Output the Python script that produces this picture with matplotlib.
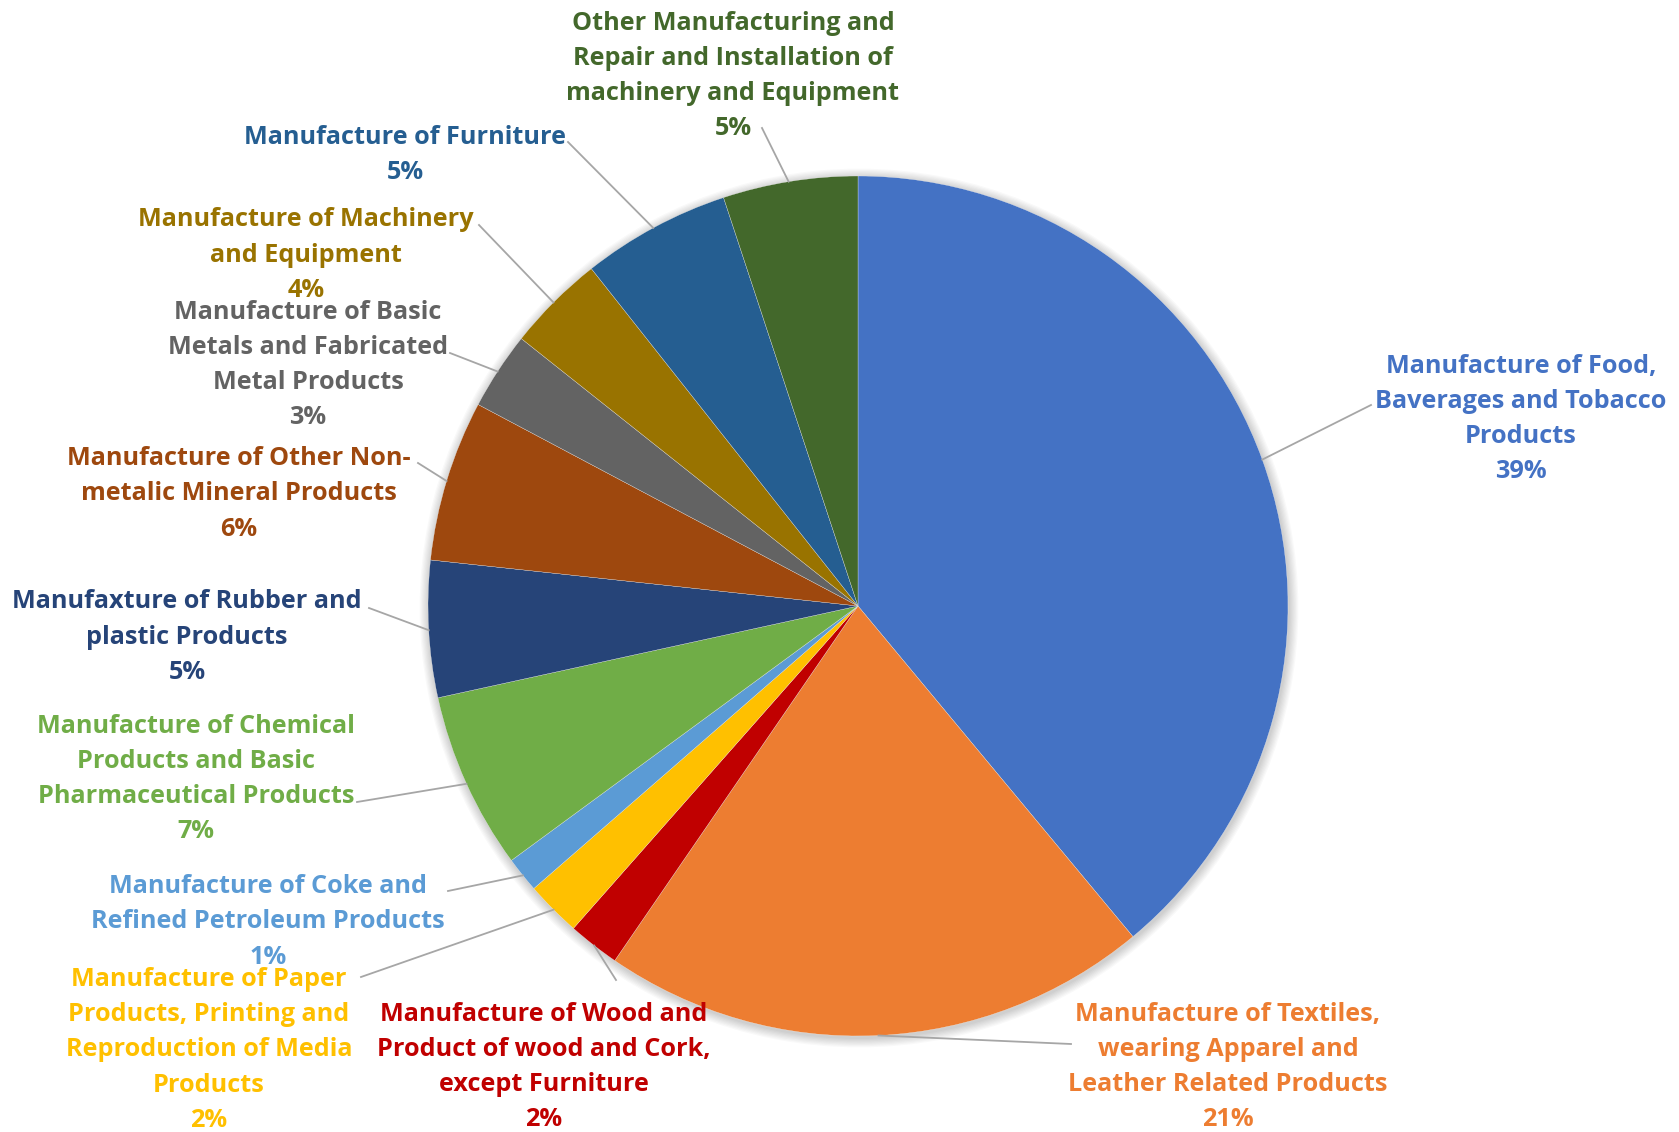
import numpy as np
import matplotlib
matplotlib.use('Agg')
import matplotlib.pyplot as plt
from matplotlib.patches import Circle

# slice values (percent), clockwise from 12 o'clock
categories = [
    "Manufacture of Food,\nBaverages and Tobacco\nProducts",
    "Manufacture of Textiles,\nwearing Apparel and\nLeather Related Products",
    "Manufacture of Wood and\nProduct of wood and Cork,\nexcept Furniture",
    "Manufacture of Paper\nProducts, Printing and\nReproduction of Media\nProducts",
    "Manufacture of Coke and\nRefined Petroleum Products",
    "Manufacture of Chemical\nProducts and Basic\nPharmaceutical Products",
    "Manufaxture of Rubber and\nplastic Products",
    "Manufacture of Other Non-\nmetalic Mineral Products",
    "Manufacture of Basic\nMetals and Fabricated\nMetal Products",
    "Manufacture of Machinery\nand Equipment",
    "Manufacture of Furniture",
    "Other Manufacturing and\nRepair and Installation of\nmachinery and Equipment",
]
values = [38.94, 20.6, 1.94, 2.08, 1.33, 6.65, 5.13, 6.05, 2.92, 3.67, 5.58, 5.06]
pct_labels = ["39%", "21%", "2%", "2%", "1%", "7%", "5%", "6%", "3%", "4%", "5%", "5%"]
colors = ["#4472C4", "#ED7D31", "#C00000", "#FFC000", "#5B9BD5", "#70AD47",
          "#264478", "#9E480E", "#636363", "#997300", "#255E91", "#43682B"]

# layout (image pixel coords, y downward)
W, H = 1679, 1132
CX, CY, R = 858, 606, 430
label_xy = [(1521, 419), (1228, 1067), (544, 1067), (209, 1050), (268, 922), (196, 779),
            (187, 637), (239, 494), (308, 365), (306, 255), (405, 155), (733, 76)]
leader_end = [(1371, 405), (1071, 1044), (616, 980), (361, 977), (448, 891), (357, 802),
              (369, 608), (418, 463), (450, 353), (479, 225), (568, 142), (762, 128)]

fig = plt.figure(figsize=(W / 100, H / 100), dpi=100)
ax = fig.add_axes([0, 0, 1, 1])

# soft shadow
for i in range(8):
    ax.add_patch(Circle((CX + 1, H - CY - 2), R + 1 + i * 1.2, color='black',
                        alpha=0.025, lw=0, zorder=0))

ax.pie(values, colors=colors, startangle=90, counterclock=False,
       center=(CX, H - CY), radius=R, frame=True,
       wedgeprops=dict(edgecolor='#F2F2F2', linewidth=0.2))
ax.set_xlim(0, W)
ax.set_ylim(0, H)
ax.set_aspect('equal')
ax.axis('off')

cum = np.cumsum([0] + values[:-1])
for i, (cat, v) in enumerate(zip(categories, values)):
    mid = np.deg2rad((cum[i] + v / 2) / 100 * 360)
    sx = CX + R * np.sin(mid)
    sy = CY - R * np.cos(mid)
    ex, ey = leader_end[i]
    ax.plot([sx, ex], [H - sy, H - ey], color='#A6A6A6', lw=1.3, zorder=1)
    lx, ly = label_xy[i]
    ax.text(lx, H - ly, cat + "\n" + pct_labels[i], color=colors[i],
            ha='center', va='center', fontsize=18.2, fontweight='bold',
            family='Open Sans', linespacing=1.54, zorder=3)

fig.savefig('out.png', dpi=100)
